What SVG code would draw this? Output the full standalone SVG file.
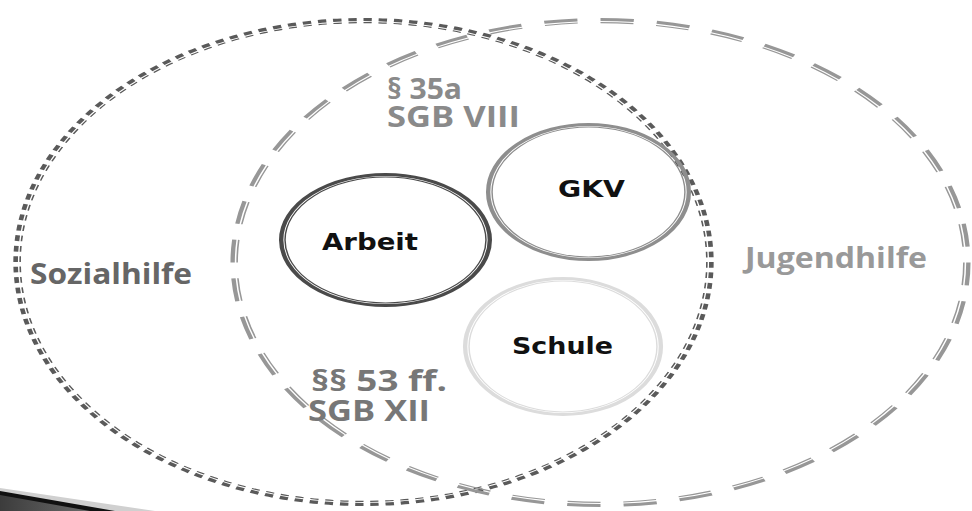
<svg xmlns="http://www.w3.org/2000/svg" width="972" height="511" viewBox="0 0 972 511">
  <defs>
    <linearGradient id="wedgeFill" x1="0" y1="0" x2="1" y2="0">
      <stop offset="0" stop-color="#3c3c3c"/>
      <stop offset="1" stop-color="#6a6a6a"/>
    </linearGradient>
  </defs>
  <style>
    .area-label { font-family: "Open Sans", "DejaVu Sans", sans-serif; font-weight: 700; font-size: 28px; }
    .node-label { font-family: "DejaVu Sans", "Liberation Sans", sans-serif; font-weight: bold; font-size: 23px; fill: #111; }
    .ring { fill: none; }
    .dotted-thick { stroke: #5a5a5a; stroke-width: 3.2; stroke-dasharray: 5.5 4.5; }
    .dotted-thin  { stroke: #5a5a5a; stroke-width: 1.1; stroke-dasharray: 5.5 4.5; }
    .dashed-thick { stroke: #979797; stroke-width: 3; stroke-dasharray: 23 16; }
    .dashed-thin  { stroke: #979797; stroke-width: 1.1; stroke-dasharray: 23 16; }
  </style>

  <rect width="972" height="511" fill="#ffffff"/>

  <!-- dark wedge in the lower left corner -->
  <g id="corner-wedge">
    <polygon points="0,488 155,511 0,511" fill="#d0d0d0"/>
    <polygon points="0,491 115,511 0,511" fill="#111"/>
    <polygon points="0,495 90,511 0,511" fill="url(#wedgeFill)"/>
  </g>

  <!-- Sozialhilfe: large dotted ring (stretched horizontally) -->
  <g id="sozialhilfe">
    <g transform="scale(1.45,1)">
      <ellipse class="ring dotted-thick" cx="250.69" cy="262" rx="239.9" ry="242.5" pathLength="1440"/>
      <ellipse class="ring dotted-thin" cx="250.69" cy="262" rx="236.8" ry="239.4" pathLength="1440"/>
    </g>
    <text class="area-label" x="30" y="284" fill="#666" textLength="162" lengthAdjust="spacingAndGlyphs">Sozialhilfe</text>
  </g>

  <!-- Jugendhilfe: large dashed ring -->
  <g id="jugendhilfe">
    <g transform="scale(1.45,1)">
      <ellipse class="ring dashed-thick" cx="414.14" cy="262.5" rx="253.7" ry="243" pathLength="1560"/>
      <ellipse class="ring dashed-thin" cx="414.14" cy="262.5" rx="250.6" ry="239.9" pathLength="1560"/>
    </g>
    <text class="area-label" x="745" y="268" fill="#999" textLength="182" lengthAdjust="spacingAndGlyphs">Jugendhilfe</text>
  </g>

  <!-- legal references -->
  <g id="sgb-viii">
    <text class="area-label" x="387" y="99" fill="#8a8a8a" textLength="75" lengthAdjust="spacingAndGlyphs">§ 35a</text>
    <text class="area-label" x="387" y="127" fill="#8a8a8a" textLength="133" lengthAdjust="spacingAndGlyphs">SGB VIII</text>
  </g>
  <g id="sgb-xii">
    <text class="area-label" x="311" y="391" fill="#777" textLength="136" lengthAdjust="spacingAndGlyphs">§§ 53 ff.</text>
    <text class="area-label" x="308" y="421" fill="#777" textLength="122" lengthAdjust="spacingAndGlyphs">SGB XII</text>
  </g>

  <!-- Arbeit -->
  <g id="arbeit">
    <g transform="scale(1.45,1)">
      <ellipse class="ring" cx="265.86" cy="240" rx="71.95" ry="65.5" stroke="#4a4a4a" stroke-width="3"/>
      <ellipse class="ring" cx="265.86" cy="240" rx="69.3" ry="62.9" stroke="#4a4a4a" stroke-width="1"/>
    </g>
    <text class="node-label" x="322" y="250" textLength="96" lengthAdjust="spacingAndGlyphs">Arbeit</text>
  </g>

  <!-- GKV -->
  <g id="gkv">
    <g transform="scale(1.45,1)">
      <ellipse class="ring" cx="405.86" cy="192" rx="69.2" ry="67.5" stroke="#8e8e8e" stroke-width="3"/>
      <ellipse class="ring" cx="405.86" cy="192" rx="66.5" ry="64.9" stroke="#8e8e8e" stroke-width="1"/>
    </g>
    <text class="node-label" x="558" y="197" textLength="67" lengthAdjust="spacingAndGlyphs">GKV</text>
  </g>

  <!-- Schule -->
  <g id="schule">
    <g transform="scale(1.45,1)">
      <ellipse class="ring" cx="388.28" cy="346.5" rx="67.5" ry="68" stroke="#dcdcdc" stroke-width="3"/>
      <ellipse class="ring" cx="388.28" cy="346.5" rx="64.8" ry="65.4" stroke="#dcdcdc" stroke-width="1"/>
    </g>
    <text class="node-label" x="512" y="354" textLength="101" lengthAdjust="spacingAndGlyphs">Schule</text>
  </g>
</svg>
